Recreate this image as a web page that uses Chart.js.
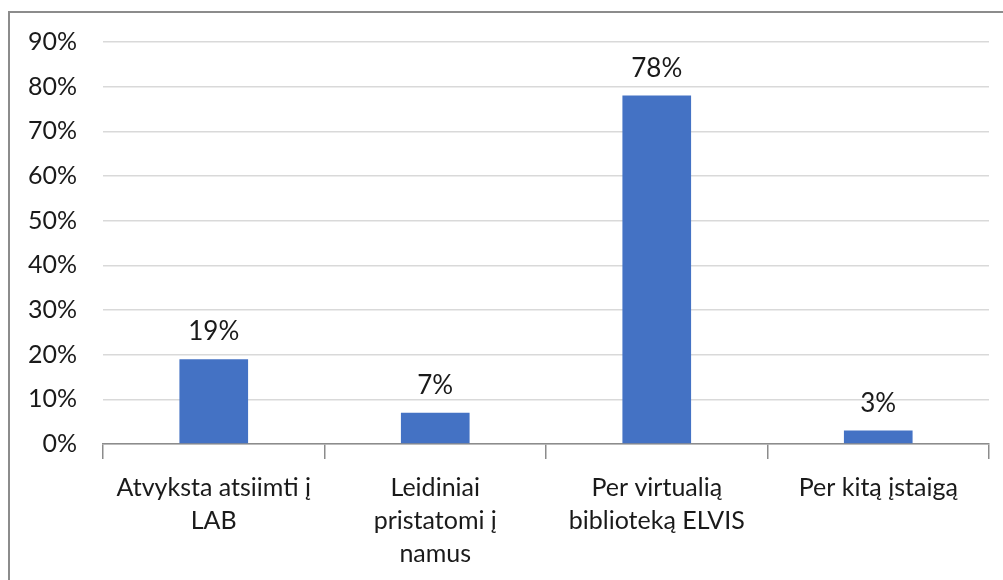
<!DOCTYPE html>
<html>
<head>
<meta charset="utf-8">
<script src="https://cdn.jsdelivr.net/npm/chart.js@4"></script>
<style>
  body { margin: 0; background: #fff; }
  #frame { position: absolute; left: 8px; top: 11px; width: 1100px; height: 700px; border: 2px solid #8c8c8c; box-sizing: border-box; }
  #wrap { position: absolute; left: 0; top: 0; width: 1003px; height: 580px; }
</style>
</head>
<body>
<div id="frame"></div>
<div id="wrap"><canvas id="myChart"></canvas></div>
<script>
// categories, split into lines the way they wrap in the picture
var categories = [
    ['Atvyksta atsiimti į', 'LAB'],
    ['Leidiniai', 'pristatomi į', 'namus'],
    ['Per virtualią', 'biblioteką ELVIS'],
    ['Per kitą įstaigą']
];
var values = [19, 7, 78, 3];
var tickLabels = ['0%', '10%', '20%', '30%', '40%', '50%', '60%', '70%', '80%', '90%'];

var FONT = 'Lato, "Open Sans", sans-serif';

// draws the "19%" etc above each bar
var valueLabels = {
    id: 'valueLabels',
    afterDatasetsDraw(chart) {
        var ctx = chart.ctx;
        var meta = chart.getDatasetMeta(0);
        ctx.save();
        ctx.font = '26px ' + FONT;
        ctx.fillStyle = '#1a1a1a';
        ctx.textAlign = 'center';
        ctx.textBaseline = 'alphabetic';
        meta.data.forEach(function (bar, i) {
            ctx.fillText(values[i] + '%', bar.x, bar.y - 19);
        });
        ctx.restore();
    }
};

const myChart = new Chart(document.getElementById('myChart'), {
    type: 'bar',
    data: {
        labels: categories,
        datasets: [{
            data: values,
            backgroundColor: '#4472c4',
            barPercentage: 0.31,
            categoryPercentage: 1
        }]
    },
    options: {
        responsive: true,
        maintainAspectRatio: false,
        animation: false,
        layout: { padding: { top: 42, right: 14, bottom: 0, left: 0 } },
        plugins: { legend: { display: false }, tooltip: { enabled: false } },
        scales: {
            x: {
                grid: {
                    offset: true,
                    drawOnChartArea: false,
                    drawTicks: true,
                    tickLength: 15,
                    color: '#8c8c8c',
                    lineWidth: 1.5
                },
                border: { color: '#8c8c8c', width: 1.5 },
                ticks: {
                    color: '#1a1a1a',
                    font: { family: FONT, size: 25, lineHeight: 1.32 },
                    maxRotation: 0,
                    autoSkip: false,
                    padding: 12
                },
                afterFit: function (s) { s.height = 136; }
            },
            y: {
                min: 0,
                max: 90,
                grid: { color: '#d9d9d9', lineWidth: 1.5, drawTicks: false },
                border: { display: false },
                ticks: {
                    stepSize: 10,
                    color: '#1a1a1a',
                    font: { family: FONT, size: 25 },
                    padding: 26,
                    callback: function (v, i) { return tickLabels[i]; }
                },
                afterFit: function (s) { s.width = 103; }
            }
        }
    },
    plugins: [valueLabels]
});
</script>
</body>
</html>
